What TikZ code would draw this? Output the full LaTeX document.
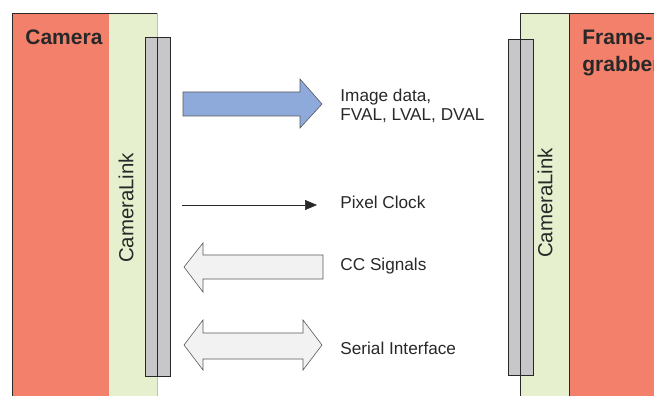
\documentclass[tikz,border=0pt]{standalone}
\usepackage{fontspec}
\setmainfont{Liberation Sans}
\usetikzlibrary{arrows.meta}
\definecolor{camred}{RGB}{243,128,107}
\definecolor{clgreen}{RGB}{230,240,206}
\definecolor{bargray}{RGB}{199,199,201}
\definecolor{datablue}{RGB}{142,170,219}
\definecolor{ccgray}{RGB}{242,242,242}
\definecolor{inkgray}{RGB}{40,40,40}
\begin{document}
\begin{tikzpicture}[
        x = 1pt, y = -1pt,
        line width = 0.8pt,
        boxline/.style = {draw = inkgray},
        blockarrow/.style = {draw = black!65, line width = 0.6pt},
        sigtext/.style = {anchor = base west, inner sep = 0pt, align = left, text = inkgray,
            font = \fontsize{17.2}{19.5}\selectfont},
        boxtitle/.style = {anchor = base west, inner sep = 0pt, align = left, text = inkgray,
            font = \fontsize{21}{27}\selectfont\bfseries},
        cltext/.style = {rotate = 90, inner sep = 0pt, text = inkgray,
            font = \fontsize{20.4}{24}\selectfont}
    ]
        \useasboundingbox (0,0) rectangle (654,396);
        \clip (0,0) rectangle (654,396);
        % camera side
        \draw[boxline, fill = camred] (12,13) rectangle (109,402);
        \fill[clgreen] (109,13) rectangle (157,402);
        \draw[boxline] (109,13) -- (157,13);
        \draw[black!25] (157,13) -- (157,402);
        \draw[boxline, fill = bargray] (145,37) rectangle (157,376);
        \draw[boxline, fill = bargray] (157,37) rectangle (170,376);
        % frame grabber side
        \draw[boxline, fill = clgreen] (520,13) rectangle (569,402);
        \draw[boxline, fill = camred] (569,13) rectangle (662,402);
        \draw[boxline, fill = bargray] (508,39) rectangle (520,375);
        \draw[boxline, fill = bargray] (520,39) rectangle (533,375);
        \node[boxtitle] (camera) at (25,45) {Camera};
        \node[boxtitle] (grabber) at (582,72) {Frame-\\grabber};
        \node[cltext] (clleft) at (126,208) {CameraLink};
        \node[cltext] (clright) at (545,203) {CameraLink};
        % signals
        \draw[blockarrow, fill = datablue] (183,92) -- (300,92) -- (300,79) -- (322,104) -- (300,128) -- (300,116) -- (183,116) -- cycle;
        \coordinate (clkfrom) at (182,205);
        \coordinate (clkto) at (317,205);
        \draw[-{Triangle[length=12pt,width=10pt]}, line width = 0.6pt, inkgray] (clkfrom) -- (clkto);
        \draw[blockarrow, fill = ccgray] (323,255) -- (203,255) -- (203,243) -- (184,267) -- (203,292) -- (203,279) -- (323,279) -- cycle;
        \draw[blockarrow, fill = ccgray] (203,333) -- (303,333) -- (303,320) -- (322,345) -- (303,370) -- (303,359) -- (203,359) -- (203,370) -- (184,345) -- (203,320) -- cycle;
        \node[sigtext] (data) at (340,121) {Image data,\\FVAL, LVAL, DVAL};
        \node[sigtext] (clk) at (340,208) {Pixel Clock};
        \node[sigtext] (cc) at (340,270) {CC Signals};
        \node[sigtext] (serial) at (340,354) {Serial Interface};
    \end{tikzpicture}
\end{document}
